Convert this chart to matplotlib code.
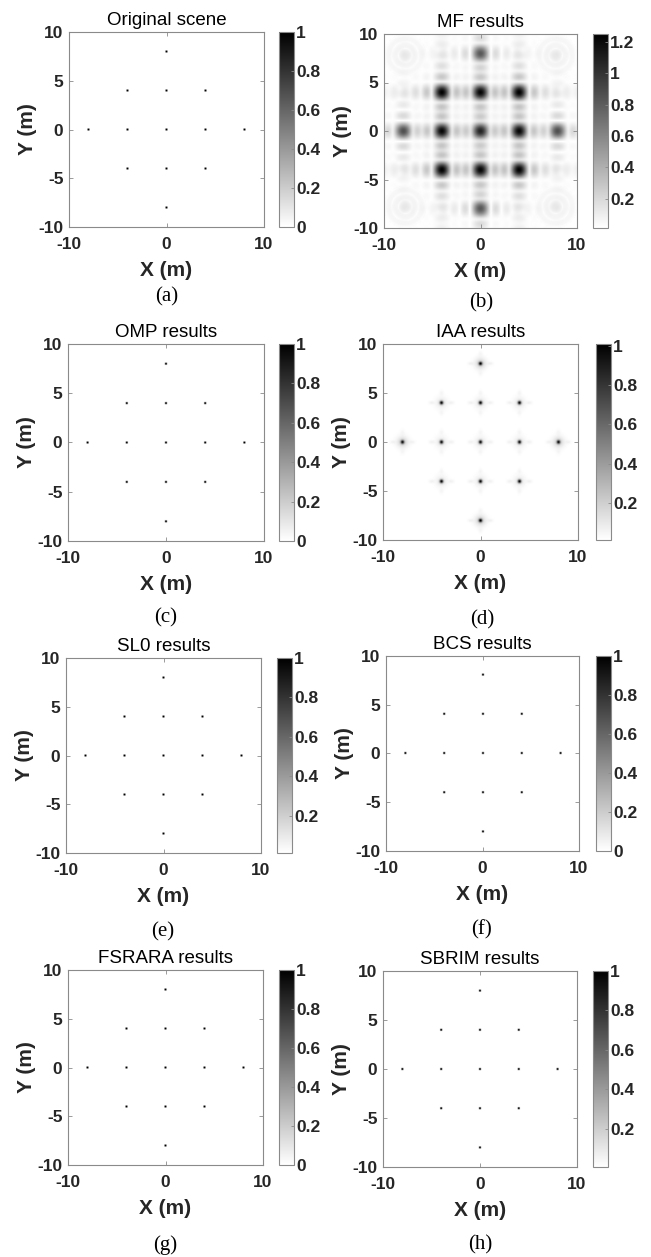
import numpy as np
import matplotlib
matplotlib.use("Agg")
import matplotlib.pyplot as plt
from matplotlib.ticker import MultipleLocator, FuncFormatter

plt.rcParams["axes.unicode_minus"] = False

# ---------------- data ----------------
target_x = [0, -4, 0, 4, -8, -4, 0, 4, 8, -4, 0, 4, 0]
target_y = [8, 4, 4, 4, 0, 0, 0, 0, 0, -4, -4, -4, -8]

scene_amp = [1, 1, 1, 1, 1, 1, 1, 1, 1, 1, 1, 1, 1]
mf_amp = [0.80, 1.23, 1.20, 1.23, 0.85, 1.20, 1.05, 1.20, 0.85, 1.23, 1.20, 1.23, 0.80]
iaa_amp = [1, 1, 1, 1, 1, 1, 1, 1, 1, 1, 1, 1, 1]
iaa_halo = [0.20, 0.10, 0.10, 0.10, 0.20, 0.10, 0.10, 0.10, 0.20, 0.10, 0.10, 0.10, 0.20]
omp_amp = [1, 1, 1, 1, 1, 1, 1, 1, 1, 1, 1, 1, 1]
sl0_amp = [1, 1, 1, 1, 1, 1, 1, 1, 1, 1, 1, 1, 1]
bcs_amp = [1, 1, 1, 1, 1, 1, 1, 1, 1, 1, 1, 1, 1]
fsrara_amp = [1, 1, 1, 1, 1, 1, 1, 1, 1, 1, 1, 1, 1]
sbrim_amp = [1, 1, 1, 1, 1, 1, 1, 1, 1, 1, 1, 1, 1]

# faint ring-shaped residues of the MF image in the four corners
mf_ring_x = [-7.8, 7.8, -7.8, 7.8]
mf_ring_y = [7.8, 7.8, -7.8, -7.8]
mf_ring_amp = [0.12, 0.12, 0.12, 0.12]

# background floor of each reconstructed image
floor_levels = {"a": 0.0, "b": 0.01, "c": 0.0, "d": 0.01,
                "e": 0.01, "f": 0.0, "g": 0.0, "h": 0.005}

titles = {"a": "Original scene", "b": "MF results", "c": "OMP results",
          "d": "IAA results", "e": "SL0 results", "f": "BCS results",
          "g": "FSRARA results", "h": "SBRIM results"}

x_ticks = [-10, 0, 10]
y_ticks = [-10, -5, 0, 5, 10]

# ---------------- images ----------------
fine = np.round(np.arange(-10, 10.0001, 0.1), 6)
coarse = np.round(np.arange(-10, 10.0001, 0.2), 6)


def sparse_image(amps, floor):
    img = np.full((coarse.size, coarse.size), floor, dtype=float)
    for x, y, a in zip(target_x, target_y, amps):
        ix = int(np.argmin(np.abs(coarse - x)))
        iy = int(np.argmin(np.abs(coarse - y)))
        img[iy, ix] = a
    return img


X, Y = np.meshgrid(fine, fine)


def mf_image(floor):
    power = np.zeros_like(X)
    w = 1.1
    for x, y, a in zip(target_x, target_y, mf_amp):
        power += (a * np.sinc((X - x) / w) * np.sinc((Y - y) / w)) ** 2
    for x, y, a in zip(mf_ring_x, mf_ring_y, mf_ring_amp):
        r = np.hypot(X - x, Y - y)
        power += (a * np.abs(np.sinc(r / 0.7)) ** 0.5 * (r < 2.2)) ** 2
    return np.sqrt(power) + floor


def iaa_image(floor):
    img = np.zeros_like(X)
    for x, y, a, h in zip(target_x, target_y, iaa_amp, iaa_halo):
        dx, dy = X - x, Y - y
        core = np.exp(-(dx ** 2 + dy ** 2) / (2 * 0.13 ** 2))
        halo = h * np.exp(-(dx ** 2 + dy ** 2) / (2 * 0.4 ** 2))
        side_x = 0.06 * np.exp(-((np.abs(dx) - 1.0) ** 2) / (2 * 0.2 ** 2) - dy ** 2 / (2 * 0.12 ** 2))
        side_y = 0.04 * np.exp(-((np.abs(dy) - 1.0) ** 2) / (2 * 0.2 ** 2) - dx ** 2 / (2 * 0.15 ** 2))
        psf = core + halo + side_x + side_y
        img += a * psf / (1 + h)
    return img + floor


images = {
    "a": (sparse_image(scene_amp, floor_levels["a"]), coarse),
    "b": (mf_image(floor_levels["b"]), fine),
    "c": (sparse_image(omp_amp, floor_levels["c"]), coarse),
    "d": (iaa_image(floor_levels["d"]), fine),
    "e": (sparse_image(sl0_amp, floor_levels["e"]), coarse),
    "f": (sparse_image(bcs_amp, floor_levels["f"]), coarse),
    "g": (sparse_image(fsrara_amp, floor_levels["g"]), coarse),
    "h": (sparse_image(sbrim_amp, floor_levels["h"]), coarse),
}

# ---------------- layout (pixels: left, top, width, height, colorbar left) ----------------
W, H = 651, 1257
layout = {
    "a": (69, 32, 195, 195, 279),
    "b": (384, 34, 193, 194, 593),
    "c": (68, 344, 196, 197, 279),
    "d": (383, 344, 195, 196, 596),
    "e": (66, 658, 195, 195, 277),
    "f": (386, 656, 193, 195, 596),
    "g": (68, 970, 195, 195, 279),
    "h": (383, 971, 194, 196, 593),
}
captions = {"a": (167, 297), "b": (481, 303), "c": (166, 618), "d": (482, 620),
            "e": (163, 932), "f": (482, 930), "g": (165, 1245), "h": (480, 1245)}

SANS = ["Liberation Sans", "DejaVu Sans"]
SERIF = ["Liberation Serif", "DejaVu Serif"]
EDGE = "#8a8a8a"
TXT = "#262626"

fig = plt.figure(figsize=(W / 100, H / 100), dpi=100)
fmt = FuncFormatter(lambda v, p: "%g" % round(v, 6))

for key in "abcdefgh":
    l, t, w, h, cbx = layout[key]
    ax = fig.add_axes([l / W, 1 - (t + h) / H, w / W, h / H])
    img, grid = images[key]
    step = grid[1] - grid[0]
    ext = [grid[0] - step / 2, grid[-1] + step / 2, grid[0] - step / 2, grid[-1] + step / 2]
    im = ax.imshow(img, cmap="gray_r", origin="lower", extent=ext, aspect="auto",
                   vmin=img.min(), vmax=img.max(), interpolation="antialiased")
    ax.set_xlim(-10, 10)
    ax.set_ylim(-10, 10)
    ax.set_xticks(x_ticks)
    ax.set_yticks(y_ticks)
    ax.tick_params(direction="in", top=True, right=True, length=3, width=0.6,
                   color=EDGE, labelsize=12.5, labelcolor=TXT)
    ax.tick_params(axis="x", pad=7)
    ax.tick_params(axis="y", pad=4)
    for lab in ax.get_xticklabels() + ax.get_yticklabels():
        lab.set_fontweight("bold")
        lab.set_family(SANS)
    for s in ax.spines.values():
        s.set_color(EDGE)
        s.set_linewidth(0.8)
    ax.set_xlabel("X (m)", fontsize=15, fontweight="bold", family=SANS, color=TXT, labelpad=7)
    ax.set_ylabel("Y (m)", fontsize=15, fontweight="bold", family=SANS, color=TXT, labelpad=1)
    ax.set_title(titles[key], fontsize=13.5, family=SANS, color="black", pad=5)

    cax = fig.add_axes([cbx / W, 1 - (t + h) / H, 15 / W, h / H])
    cb = fig.colorbar(im, cax=cax)
    cb.outline.set_edgecolor(EDGE)
    cb.outline.set_linewidth(0.8)
    cax.yaxis.set_major_locator(MultipleLocator(0.2))
    cax.yaxis.set_major_formatter(fmt)
    cax.tick_params(direction="in", length=2.5, width=0.6, color=EDGE,
                    labelsize=12.5, labelcolor=TXT, pad=1.5)
    for lab in cax.get_yticklabels():
        lab.set_fontweight("bold")
        lab.set_family(SANS)

    cx, cy = captions[key]
    fig.text(cx / W, 1 - cy / H, "(%s)" % key, family=SERIF, fontsize=15,
             ha="center", va="center", color="black")

fig.savefig("out.png", dpi=100)
